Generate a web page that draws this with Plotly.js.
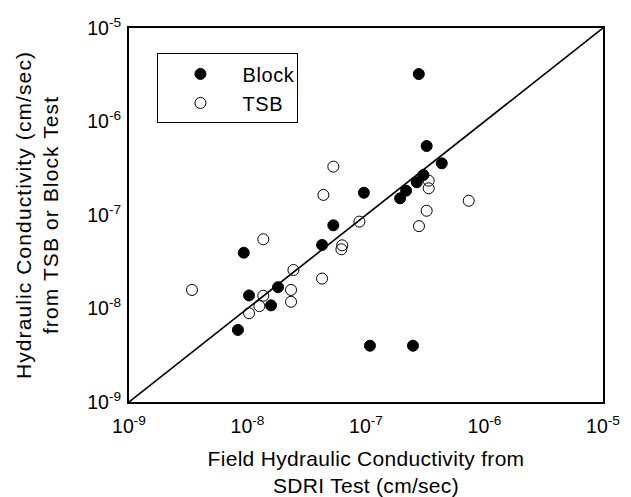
<!DOCTYPE html>
<html>
<head>
<meta charset="utf-8">
<script src="https://cdn.plot.ly/plotly-3.0.1.min.js"></script>
<style>
html,body{margin:0;padding:0;background:#fff;}
#chart{width:631px;height:497px;}
#chart .ytitle{letter-spacing:1.1px;}
#chart .xtitle{letter-spacing:0.3px;}
#chart .legendtext{letter-spacing:0.6px;}
</style>
</head>
<body>
<div id="chart"></div>
<script>
// Block test vs SDRI
const blockX = [9.3e-9, 1.03e-8, 8.3e-9, 1.58e-8, 1.81e-8, 4.26e-8, 5.3e-8, 9.6e-8, 1.94e-7, 2.18e-7, 2.68e-7, 3.05e-7, 4.36e-7, 3.25e-7, 2.79e-7, 1.08e-7, 2.49e-7];
const blockY = [3.95e-8, 1.38e-8, 5.9e-9, 1.08e-8, 1.69e-8, 4.78e-8, 7.76e-8, 1.73e-7, 1.51e-7, 1.82e-7, 2.24e-7, 2.68e-7, 3.57e-7, 5.47e-7, 3.22e-6, 4.0e-9, 4.0e-9];
// TSB vs SDRI
const tsbX = [1.36e-8, 3.4e-9, 1.36e-8, 1.26e-8, 1.03e-8, 2.33e-8, 2.33e-8, 2.44e-8, 4.26e-8, 6.2e-8, 6.3e-8, 8.8e-8, 5.3e-8, 4.37e-8, 3.38e-7, 3.38e-7, 7.36e-7, 3.25e-7, 2.8e-7];
const tsbY = [5.5e-8, 1.58e-8, 1.37e-8, 1.06e-8, 8.9e-9, 1.58e-8, 1.18e-8, 2.58e-8, 2.09e-8, 4.3e-8, 4.74e-8, 8.5e-8, 3.29e-7, 1.64e-7, 2.33e-7, 1.93e-7, 1.42e-7, 1.11e-7, 7.6e-8];
// 1:1 line
const lineX = [1e-9, 1e-5];
const lineY = [1e-9, 1e-5];
// major ticks
const tickVals = [1e-9, 1e-8, 1e-7, 1e-6, 1e-5];
const tickText = ["10<sup>-9</sup>", "10<sup>-8</sup>", "10<sup>-7</sup>", "10<sup>-6</sup>", "10<sup>-5</sup>"];
// minor ticks at 2..9 within each decade
const minorTickVals = [];
for (let e = -9; e < -5; e++) {
  for (let m = 2; m <= 9; m++) minorTickVals.push(Number((m * Math.pow(10, e)).toPrecision(3)));
}

const FONT = 'Liberation Sans, Arial, Helvetica, sans-serif';
const W = 631, H = 497, M = {l: 129, r: 28, t: 28, b: 95};
const plotW = W - M.l - M.r, plotH = H - M.t - M.b;

// inside tick marks on all four sides, placed through the axes (log units)
const shapes = [];
function addTicks(vals, len, width) {
  const fx = len / plotH, fy = len / plotW;
  vals.forEach(function (v) {
    const lv = Math.log10(v);
    const line = {color: '#000', width: width};
    shapes.push({type: 'line', xref: 'x', yref: 'paper', x0: lv, x1: lv, y0: 0, y1: fx, line: line});
    shapes.push({type: 'line', xref: 'x', yref: 'paper', x0: lv, x1: lv, y0: 1, y1: 1 - fx, line: line});
    shapes.push({type: 'line', xref: 'paper', yref: 'y', x0: 0, x1: fy, y0: lv, y1: lv, line: line});
    shapes.push({type: 'line', xref: 'paper', yref: 'y', x0: 1, x1: 1 - fy, y0: lv, y1: lv, line: line});
  });
}
addTicks(tickVals, 10, 1.5);
addTicks(minorTickVals, 5, 1.2);

const traces = [
  {x: lineX, y: lineY, mode: 'lines', line: {color: '#000', width: 1.6}, showlegend: false, hoverinfo: 'skip'},
  {x: blockX, y: blockY, mode: 'markers', name: 'Block',
   marker: {symbol: 'circle', size: 11, color: '#000', line: {color: '#000', width: 1}}},
  {x: tsbX, y: tsbY, mode: 'markers', name: 'TSB',
   marker: {symbol: 'circle-open', size: 11, color: '#000', line: {color: '#000', width: 1}}}
];

function axis(extra) {
  return Object.assign({
    type: 'log', range: [-9, -5],
    tickmode: 'array', tickvals: tickVals, ticktext: tickText,
    ticks: '',
    showline: true, linecolor: '#000', linewidth: 2, mirror: true,
    showgrid: false,
    tickfont: {family: FONT, size: 19.5, color: '#000'}
  }, extra);
}

const layout = {
  width: W, height: H,
  margin: M,
  font: {family: FONT, size: 20, color: '#000'},
  xaxis: axis({
    ticklabelstandoff: 6,
    title: {text: 'Field Hydraulic Conductivity from<br>SDRI Test (cm/sec)', font: {family: FONT, size: 21}, standoff: 23}
  }),
  yaxis: axis({
    ticklabelstandoff: 2,
    title: {text: 'Hydraulic Conductivity (cm/sec)<br>from TSB or Block Test', font: {family: FONT, size: 21}, standoff: 23}
  }),
  shapes: shapes,
  showlegend: true,
  legend: {
    x: 0.06, y: 0.932, xanchor: 'left', yanchor: 'top',
    bordercolor: '#000', borderwidth: 1, bgcolor: '#fff',
    font: {family: FONT, size: 20, color: '#000'},
    itemwidth: 74
  }
};

Plotly.newPlot('chart', traces, layout, {displayModeBar: false});
</script>
</body>
</html>
